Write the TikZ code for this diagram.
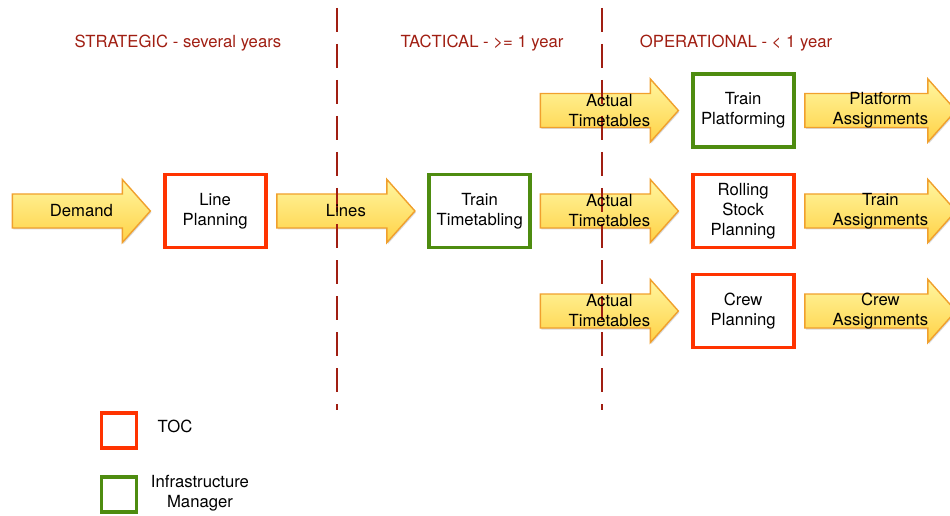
\documentclass[tikz,border=0pt]{standalone}
\usepackage{fontspec}
\setmainfont{TeX Gyre Heros}
\usetikzlibrary{shadows,backgrounds}

\definecolor{tocred}{RGB}{255,51,0}
\definecolor{imgreen}{RGB}{78,140,16}
\definecolor{phasered}{RGB}{160,30,18}
\definecolor{arrowtop}{RGB}{255,246,160}
\definecolor{arrowbot}{RGB}{255,210,70}
\definecolor{arrowedge}{RGB}{240,160,45}

\begin{document}
\begin{tikzpicture}[font=\fontsize{9.5}{11.4}\selectfont]

\def\ssep{0.24cm}
\def\bsep{0.18cm}

\tikzstyle{anode} = [minimum width=2.76cm,minimum height=1.26cm,inner sep=0pt,align=center];
\tikzstyle{lanode} = [anode,minimum width=3.02cm];
\tikzstyle{ashape} = [draw=arrowedge,thick,top color=arrowtop,bottom color=arrowbot];
\tikzstyle{bnode} = [minimum width=2.02cm,minimum height=1.46cm,inner sep=2pt,line width=2.2pt,fill=white,align=center,drop shadow={shadow xshift=0.6pt,shadow yshift=-1pt,opacity=0.3}];
\tikzstyle{lnode} = [minimum width=0.7cm,minimum height=0.7cm,inner sep=0pt,line width=2.2pt,fill=white,drop shadow={shadow xshift=0.6pt,shadow yshift=-1pt,opacity=0.3}];
\tikzstyle{phase} = [text=phasered];
\tikzstyle{sep} = [phasered,line width=1.1pt,dash pattern=on 0.48cm off 0.24cm];

\useasboundingbox (0,0) rectangle (19,10.3);

% phase separators
\coordinate (s1top) at (6.74,10.14);
\coordinate (s1bot) at (6.74,2.1);
\coordinate (s2top) at (12.04,10.14);
\coordinate (s2bot) at (12.04,2.1);
\draw [sep] (s1top) -- (s1bot);
\draw [sep] (s2top) -- (s2bot);

\node [phase] (strategic) at (3.56,9.44) {STRATEGIC - several years};
\node [phase] (tactical) at (9.64,9.44) {TACTICAL - >= 1 year};
\node [phase] (operational) at (14.72,9.44) {OPERATIONAL - < 1 year};

% strategic and tactical chain
\node [anode,anchor=west] (demand) at (0.24,6.08) {Demand};
\node [bnode,draw=tocred,anchor=west] (lineplan) at ([xshift=\ssep]demand.east) {Line\\Planning};
\node [anode,anchor=west] (lines) at ([xshift=\bsep]lineplan.east) {Lines};
\node [bnode,draw=imgreen,anchor=west] (timetabling) at ([xshift=\ssep]lines.east) {Train\\Timetabling};

% operational rows
\node [anode,anchor=west] (actual1) at (10.8,8.09) {Actual\\Timetables};
\node [anode,anchor=west] (actual2) at (10.8,6.08) {Actual\\Timetables};
\node [anode,anchor=west] (actual3) at (10.8,4.08) {Actual\\Timetables};

\node [bnode,draw=imgreen,anchor=west] (platforming) at ([xshift=\ssep]actual1.east) {Train\\Platforming};
\node [bnode,draw=tocred,anchor=west] (rolling) at ([xshift=\ssep]actual2.east) {Rolling\\Stock\\Planning};
\node [bnode,draw=tocred,anchor=west] (crew) at ([xshift=\ssep]actual3.east) {Crew\\Planning};

\node [lanode,anchor=west] (platassign) at ([xshift=\bsep]platforming.east) {Platform\\Assignments};
\node [lanode,anchor=west] (trainassign) at ([xshift=\bsep]rolling.east) {Train\\Assignments};
\node [lanode,anchor=west] (crewassign) at ([xshift=\bsep]crew.east) {Crew\\Assignments};

% arrow bodies behind the labels
\begin{pgfonlayer}{background}
\foreach \a/\l in {demand/1.38,lines/1.38,actual1/1.38,actual2/1.38,actual3/1.38,platassign/1.51,trainassign/1.51,crewassign/1.51} {
  \begin{scope}[shift={(\a.center)}]
  \fill [black,opacity=0.15] (-\l+0.02,0.31) -- (\l-0.54,0.31) -- (\l-0.54,0.6) -- (\l+0.02,-0.03) -- (\l-0.54,-0.66) -- (\l-0.54,-0.37) -- (-\l+0.02,-0.37) -- cycle;
  \draw [ashape] (-\l,0.34) -- (\l-0.56,0.34) -- (\l-0.56,0.63) -- (\l,0) -- (\l-0.56,-0.63) -- (\l-0.56,-0.34) -- (-\l,-0.34) -- cycle;
  \end{scope}
}
\end{pgfonlayer}

% legend
\node [lnode,draw=tocred] (legtoc) at (2.38,1.69) {};
\node [anchor=center] (legtoclabel) at (3.5,1.78) {TOC};
\node [lnode,draw=imgreen] (legim) at (2.38,0.41) {};
\node [anchor=center,align=center] (legimlabel) at (4.0,0.44) {Infrastructure\\Manager};

\end{tikzpicture}
\end{document}
